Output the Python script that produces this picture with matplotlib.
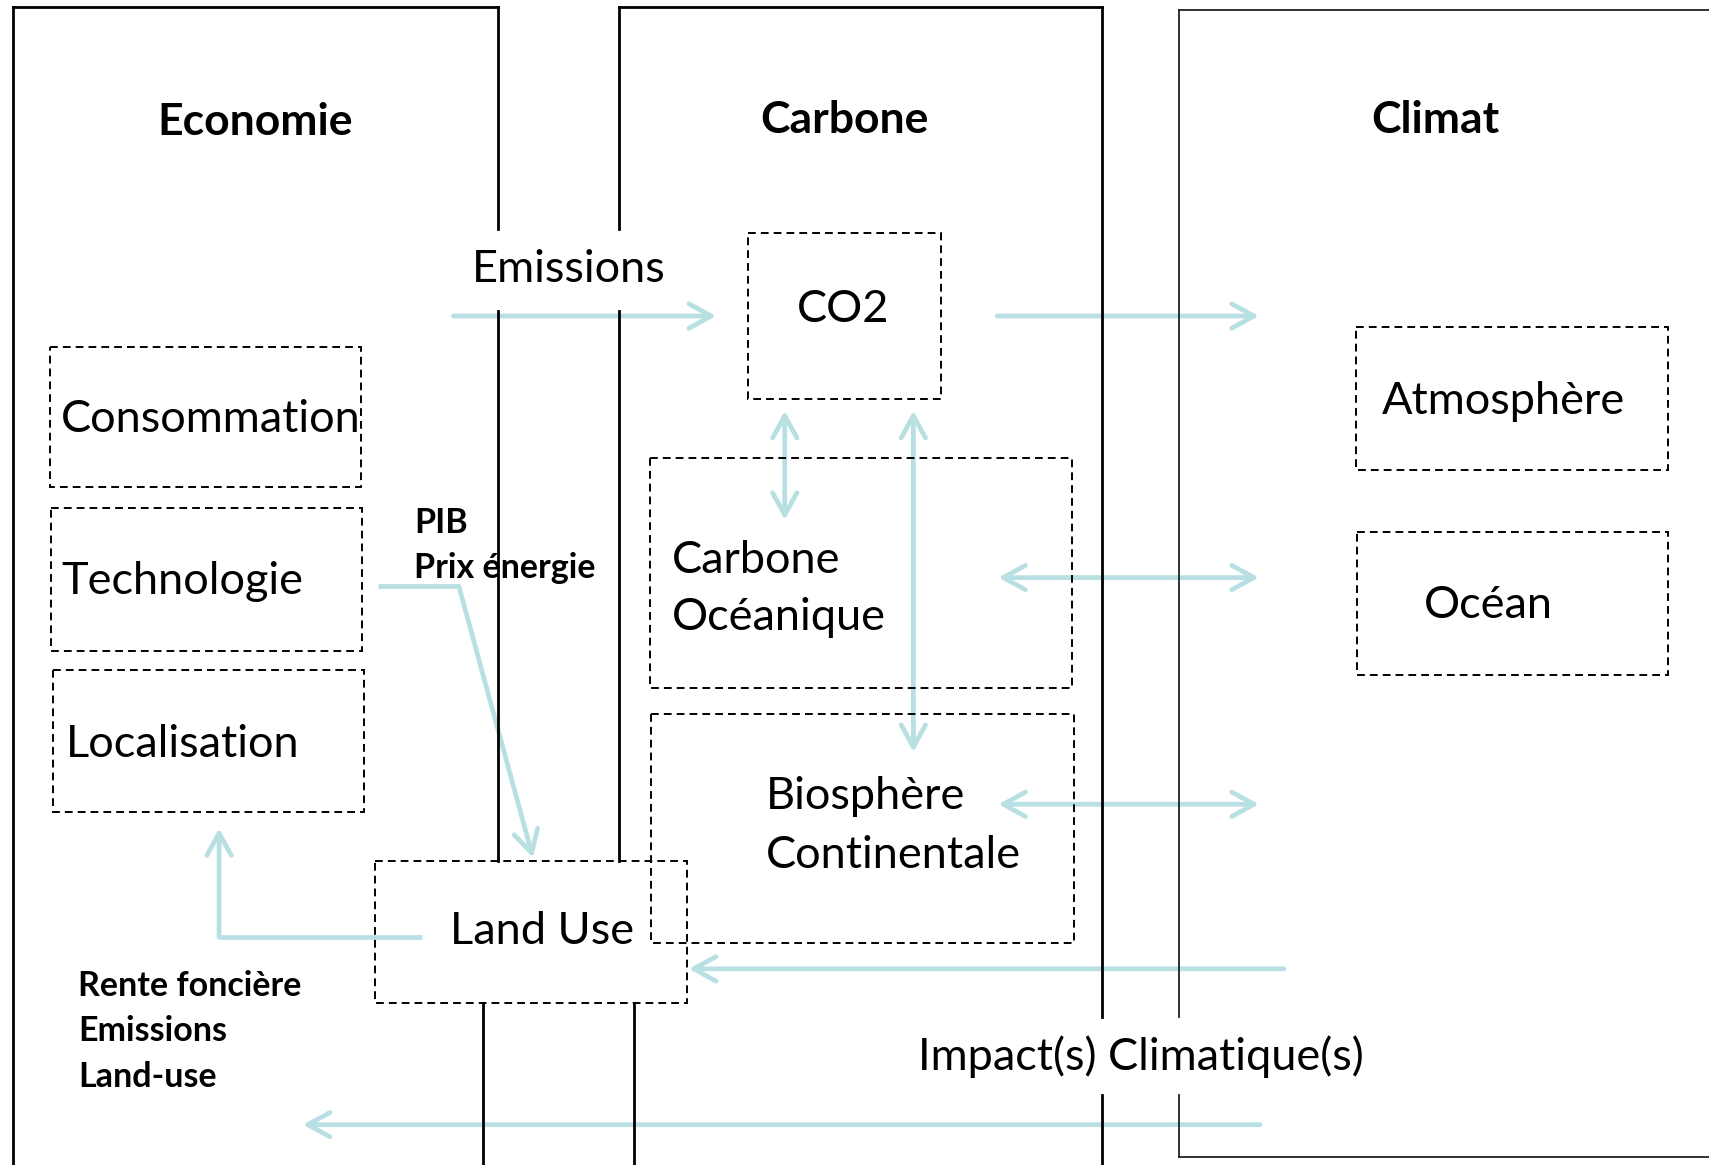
import matplotlib
matplotlib.use("Agg")
import matplotlib.pyplot as plt
from matplotlib.patches import Rectangle, FancyArrowPatch

plt.rcParams['font.family'] = ['Lato', 'DejaVu Sans']

# canvas units: 1568 x 1069, y pointing down
W, H = 1568, 1069
arrow_col = '#B8DFE2'

# panel titles
titles = ['Economie', 'Carbone', 'Climat']
title_x = [234, 775, 1317]
title_y = [112, 110, 110]

# solid panel lines (x0, y0, x1, y1)
panel_lines = [
    (12, 6, 12, 1069), (12, 6, 457, 6), (457, 6, 457, 210), (457, 285, 457, 790), (443, 920, 443, 1069),
    (568, 6, 1011, 6), (568, 6, 568, 210), (568, 285, 568, 790), (582, 920, 582, 1069),
    (1011, 6, 1011, 933), (1011, 1005, 1011, 1069),
]
climat_lines = [
    (1082, 9, 1568, 9), (1082, 9, 1082, 933), (1082, 1005, 1082, 1062), (1082, 1062, 1568, 1062),
]

# dashed boxes (x0, y0, x1, y1)
boxes = {
    'co2': (686, 214, 863, 366),
    'conso': (46, 318, 331, 447),
    'techno': (47, 466, 332, 597),
    'local': (49, 615, 334, 745),
    'ocean_c': (596, 420, 984, 631),
    'atmo': (1244, 300, 1530, 431),
    'ocean': (1245, 488, 1530, 619),
    'bio': (597, 655, 985, 865),
    'land': (344, 790, 630, 920),
}

# regular labels: text, x, y, alignment
labels = [
    ('Emissions', 522, 247, 'center'),
    ('CO2', 774, 284, 'center'),
    ('Consommation', 56, 385, 'left'),
    ('Technologie', 56, 534, 'left'),
    ('Localisation', 60, 683, 'left'),
    ('Carbone', 616, 514, 'left'),
    ('Océanique', 616, 567, 'left'),
    ('Atmosphère', 1379, 368, 'center'),
    ('Océan', 1366, 556, 'center'),
    ('Biosphère', 703, 731, 'left'),
    ('Continentale', 703, 785, 'left'),
    ('Land Use', 413, 855, 'left'),
    ('Impact(s) Climatique(s)', 1047, 970, 'center'),
]
bold_labels = [
    ('PIB', 380, 480), ('Prix énergie', 380, 521),
    ('Rente foncière', 72, 905), ('Emissions', 72, 946), ('Land-use', 72, 988),
]

# arrows: path points, style
arrows = [
    ([(416, 290), (657, 290)], '->'),
    ([(915, 290), (1155, 290)], '->'),
    ([(720, 377), (720, 477)], '<->'),
    ([(838, 377), (838, 690)], '<->'),
    ([(916, 530), (1155, 530)], '<->'),
    ([(916, 738), (1155, 738)], '<->'),
    ([(347, 538), (421, 538), (489, 787)], '->'),
    ([(387, 860), (201, 860), (201, 760)], '->'),
    ([(1178, 889), (632, 889)], '->'),
    ([(1156, 1032), (278, 1032)], '->'),
]

fig = plt.figure(figsize=(17.09, 11.65), dpi=100)
ax = fig.add_axes([0, 0, 1, 1])
ax.set_xlim(0, W)
ax.set_ylim(H, 0)
ax.axis('off')

for pts, style in arrows:
    xs = [p[0] for p in pts]
    ys = [p[1] for p in pts]
    if len(pts) > 2:
        ax.plot(xs[:-1], ys[:-1], color=arrow_col, lw=3.4, solid_capstyle='butt', zorder=2)
    a = FancyArrowPatch(pts[-2], pts[-1], arrowstyle=style + ',head_length=0.4,head_width=0.22',
                        mutation_scale=40, color=arrow_col, lw=3.4, zorder=2,
                        shrinkA=0, shrinkB=0, capstyle='round')
    ax.add_patch(a)

for x0, y0, x1, y1 in boxes.values():
    ax.add_patch(Rectangle((x0, y0), x1 - x0, y1 - y0, fill=False, edgecolor='black',
                           lw=1.4, linestyle=(0, (4, 2.6)), zorder=3))

for x0, y0, x1, y1 in panel_lines:
    ax.plot([x0, x1], [y0, y1], color='black', lw=2.0, zorder=4)
for x0, y0, x1, y1 in climat_lines:
    ax.plot([x0, x1], [y0, y1], color='#222222', lw=1.3, zorder=4)

for t, x, y in zip(titles, title_x, title_y):
    ax.text(x, y, t, ha='center', va='center', fontsize=32, fontweight='bold', zorder=5)

for t, x, y, ha in labels:
    ax.text(x, y, t, ha=ha, va='center', fontsize=32.5, zorder=5)

for t, x, y in bold_labels:
    ax.text(x, y, t, ha='left', va='center', fontsize=24.5, fontweight='bold', zorder=5)

fig.savefig('out.png', dpi=100)
